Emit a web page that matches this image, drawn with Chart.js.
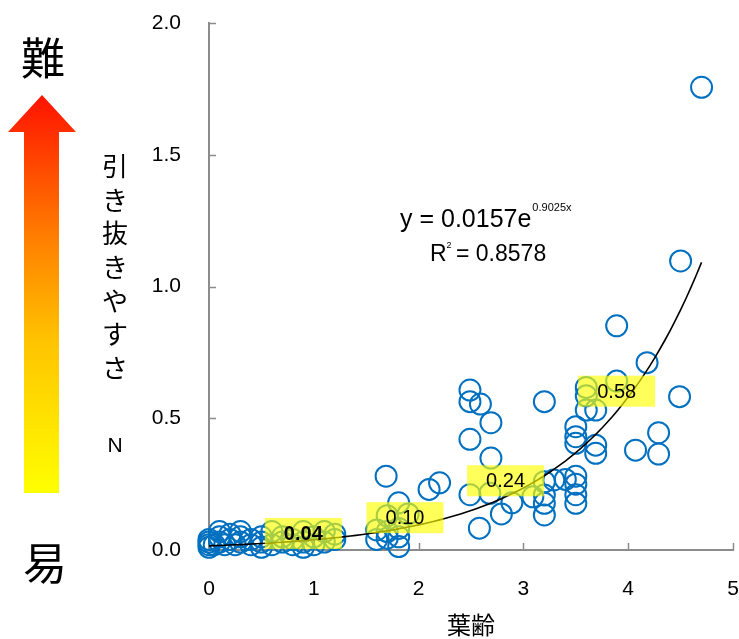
<!DOCTYPE html>
<html>
<head>
<meta charset="utf-8">
<script src="https://cdn.jsdelivr.net/npm/chart.js@4.4.0/dist/chart.umd.min.js"></script>
<style>
  html, body { margin: 0; padding: 0; background: #ffffff; }
  #wrap { width: 739px; height: 639px; position: relative; }
</style>
</head>
<body>
<div id="wrap"><canvas id="chart" width="739" height="639"></canvas></div>
<script>
// Leaf age (x) and pulling resistance N (y) for each sampled plant
const leafAge = [
  0, 0, 0, 0, 0.05, 0.1, 0.1, 0.1, 0.15, 0.2, 0.2, 0.25, 0.3, 0.3, 0.3,
  0.4, 0.4, 0.5, 0.5, 0.5, 0.6, 0.6, 0.7, 0.7, 0.8, 0.8, 0.9, 0.9, 0.9,
  1.0, 1.0, 1.1, 1.1, 1.2, 1.2,
  1.6, 1.6, 1.7, 1.7, 1.7, 1.69, 1.81, 1.81, 1.81, 1.81, 1.9, 2.1, 2.2,
  2.49, 2.49, 2.59, 2.69, 2.49, 2.69, 2.49, 2.68, 2.79, 2.58, 2.89,
  3.09, 3.2, 3.2, 3.2, 3.2, 3.2, 3.29, 3.4, 3.5, 3.5, 3.5, 3.5, 3.5, 3.5, 3.5,
  3.6, 3.6, 3.6, 3.69, 3.69, 3.69, 3.89, 3.89, 4.18, 4.49, 4.07, 4.29, 4.29,
  4.5, 4.7
];
const pullForce = [
  0.01, 0.02, 0.03, 0.04, 0.02, 0.03, 0.05, 0.07, 0.02, 0.04, 0.06, 0.02, 0.03, 0.05, 0.07,
  0.02, 0.04, 0.01, 0.03, 0.05, 0.02, 0.07, 0.03, 0.05, 0.02, 0.04, 0.01, 0.03, 0.07,
  0.02, 0.05, 0.03, 0.07, 0.04, 0.06,
  0.076, 0.04, 0.07, 0.045, 0.13, 0.28, 0.082, 0.05, 0.013, 0.179, 0.137, 0.23, 0.255,
  0.607, 0.563, 0.554, 0.483, 0.42, 0.349, 0.21, 0.215, 0.137, 0.083, 0.179,
  0.202, 0.563, 0.259, 0.209, 0.177, 0.133, 0.266, 0.268, 0.28, 0.25, 0.21, 0.177, 0.468, 0.43, 0.405,
  0.617, 0.585, 0.531, 0.531, 0.398, 0.367, 0.641, 0.851, 0.711, 0.582, 0.379, 0.445, 0.364,
  1.097, 1.756
];

// Exponential fit y = a·e^(b·x) and its stated R²
const trendA = 0.0157;
const trendB = 0.9025;
const trendR2 = 0.8578;
const trendXMax = 4.7;

// Fitted values at leaf ages 1–4 shown on the chart
const noteValues = ['0.04', '0.10', '0.24', '0.58'];
const noteLeafAge = [0.9, 1.87, 2.83, 3.89];

const xTicks = [0, 1, 2, 3, 4, 5];
const yTicks = [0, 0.5, 1.0, 1.5, 2.0];

const points = leafAge.map((x, i) => ({ x: x, y: pullForce[i] }));
const trendPoints = [];
for (let i = 0; i <= 94; i++) {
  const x = i * trendXMax / 94;
  trendPoints.push({ x: x, y: trendA * Math.exp(trendB * x) });
}

const AXIS = '#8c8c8c';
const LATIN = "'Liberation Sans', Arial, sans-serif";
const CJK = "'Noto Sans CJK JP', sans-serif";

// Short tick marks pointing into the plot area
const innerTicks = {
  id: 'innerTicks',
  beforeDatasetsDraw(chart) {
    const { ctx, chartArea, scales } = chart;
    ctx.save();
    ctx.strokeStyle = AXIS;
    ctx.lineWidth = 1.5;
    ctx.beginPath();
    xTicks.forEach(v => {
      const px = Math.round(scales.x.getPixelForValue(v)) + 0.5;
      ctx.moveTo(px, chartArea.bottom);
      ctx.lineTo(px, chartArea.bottom - 7);
    });
    yTicks.forEach(v => {
      const py = Math.round(scales.y.getPixelForValue(v)) + 0.5;
      ctx.moveTo(chartArea.left, py);
      ctx.lineTo(chartArea.left + 7, py);
    });
    ctx.stroke();
    ctx.restore();
  }
};

// Highlighted value boxes along the fitted curve
const valueNotes = {
  id: 'valueNotes',
  afterDatasetsDraw(chart) {
    const { ctx, scales } = chart;
    ctx.save();
    noteValues.forEach((txt, i) => {
      const cx = scales.x.getPixelForValue(noteLeafAge[i]);
      const cy = scales.y.getPixelForValue(parseFloat(txt)) - 6;
      ctx.fillStyle = 'rgba(255, 255, 0, 0.65)';
      ctx.fillRect(cx - 38.5, cy - 15.5, 77, 31);
      ctx.fillStyle = '#000000';
      ctx.font = (i === 0 ? 'bold ' : '') + '20px ' + LATIN;
      ctx.textAlign = 'center';
      ctx.textBaseline = 'middle';
      ctx.fillText(txt, cx, cy + 1);
    });
    ctx.restore();
  }
};

// Equation, difficulty arrow and side captions
const sideArt = {
  id: 'sideArt',
  afterDraw(chart) {
    const { ctx } = chart;
    ctx.save();

    // fit equation
    ctx.fillStyle = '#000000';
    ctx.textBaseline = 'alphabetic';
    ctx.textAlign = 'left';
    ctx.font = '25px ' + LATIN;
    const main = 'y = ' + trendA + 'e';
    ctx.fillText(main, 400, 227);
    const w = ctx.measureText(main).width;
    ctx.font = '11px ' + LATIN;
    ctx.fillText(trendB + 'x', 400 + w + 1, 211);

    ctx.font = '23px ' + LATIN;
    ctx.fillText('R', 430, 261);
    const rw = ctx.measureText('R').width;
    ctx.font = '9px ' + LATIN;
    ctx.fillText('2', 430 + rw, 248);
    ctx.font = '23px ' + LATIN;
    ctx.fillText(' = ' + trendR2, 430 + rw + 3, 261);

    // gradient arrow
    const g = ctx.createLinearGradient(0, 95, 0, 493);
    g.addColorStop(0, '#ff1200');
    g.addColorStop(0.35, '#ff7c00');
    g.addColorStop(0.62, '#ffc400');
    g.addColorStop(1, '#ffff00');
    ctx.fillStyle = g;
    ctx.beginPath();
    ctx.moveTo(42, 95);
    ctx.lineTo(76, 132);
    ctx.lineTo(59, 132);
    ctx.lineTo(59, 493);
    ctx.lineTo(24, 493);
    ctx.lineTo(24, 132);
    ctx.lineTo(8, 132);
    ctx.closePath();
    ctx.fill();

    // hard / easy captions
    ctx.fillStyle = '#000000';
    ctx.textAlign = 'center';
    ctx.textBaseline = 'middle';
    ctx.font = '44px ' + CJK;
    ctx.fillText('難', 43, 58);
    ctx.fillText('易', 45, 563);

    // vertical axis caption
    ctx.font = '26px ' + CJK;
    const cap = '引き抜きやすさ';
    for (let i = 0; i < cap.length; i++) {
      ctx.fillText(cap[i], 115, 166 + i * 33.7);
    }
    ctx.font = '21px ' + LATIN;
    ctx.fillText('N', 115, 446);

    ctx.restore();
  }
};

// Keep the plot frame fixed: no extra room for overhanging tick labels
function zeroPadding(s) {
  s.paddingLeft = 0;
  s.paddingRight = 0;
  s.paddingTop = 0;
  s.paddingBottom = 0;
}

new Chart(document.getElementById('chart'), {
  data: {
    datasets: [
      {
        type: 'line',
        data: trendPoints,
        borderColor: '#000000',
        borderWidth: 1.6,
        pointRadius: 0,
        tension: 0,
        fill: false,
        order: 0,
        clip: false
      },
      {
        type: 'scatter',
        data: points,
        pointStyle: 'circle',
        pointRadius: 10.5,
        pointHoverRadius: 10.5,
        borderColor: '#0070c0',
        backgroundColor: 'rgba(0,0,0,0)',
        borderWidth: 2,
        order: 1,
        clip: false
      }
    ]
  },
  options: {
    responsive: false,
    animation: false,
    events: [],
    layout: { autoPadding: false, padding: { left: 0, right: 6, top: 23, bottom: 0 } },
    plugins: {
      legend: { display: false },
      tooltip: { enabled: false }
    },
    scales: {
      x: {
        type: 'linear',
        min: 0,
        max: 5,
        afterBuildTicks: s => { s.ticks = xTicks.map(v => ({ value: v })); },
        ticks: {
          color: '#000000',
          font: { family: LATIN, size: 21 },
          padding: 27,
          maxRotation: 0
        },
        grid: { display: true, drawOnChartArea: false, drawTicks: false },
        border: { display: true, color: AXIS, width: 2 },
        title: {
          display: true,
          text: '葉齢',
          color: '#000000',
          font: { family: CJK, size: 24 },
          padding: { top: 6, bottom: 0 }
        },
        afterFit: s => { s.height = 89; zeroPadding(s); }
      },
      y: {
        type: 'linear',
        min: 0,
        max: 2,
        afterBuildTicks: s => { s.ticks = yTicks.map(v => ({ value: v })); },
        ticks: {
          color: '#000000',
          font: { family: LATIN, size: 21 },
          padding: 28,
          callback: v => v.toFixed(1)
        },
        grid: { display: true, drawOnChartArea: false, drawTicks: false },
        border: { display: true, color: AXIS, width: 2 },
        afterFit: s => { s.width = 209; zeroPadding(s); }
      }
    }
  },
  plugins: [innerTicks, valueNotes, sideArt]
});
</script>
</body>
</html>
